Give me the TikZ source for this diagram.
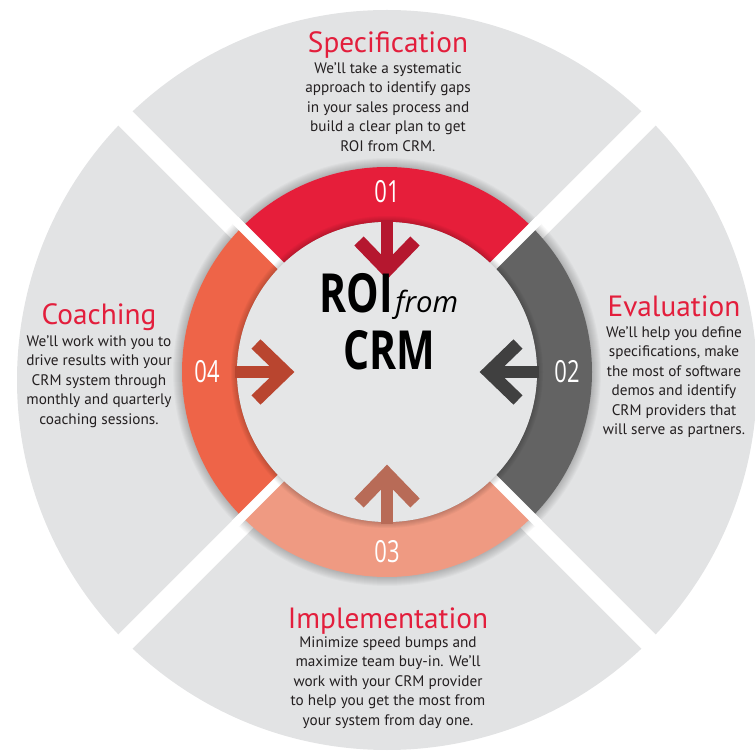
\documentclass[tikz,border=0pt]{standalone}
\usepackage{fontspec}
\setmainfont{PT Sans}
\newfontfamily\numfont[FakeStretch=0.72]{Open Sans}
\newfontfamily\roifont[FakeStretch=0.76]{Open Sans}
\newfontfamily\fromfont{Open Sans}
\usepackage{tikz}
\usetikzlibrary{positioning,calc}
\definecolor{fondgris}{HTML}{E2E3E4}
\definecolor{centregris}{HTML}{E5E6E7}
\definecolor{segrouge}{HTML}{E61E3A}
\definecolor{seggris}{HTML}{636363}
\definecolor{segsaumon}{HTML}{EF9A82}
\definecolor{segorange}{HTML}{EE6448}
\definecolor{flecherouge}{HTML}{B5172F}
\definecolor{flechegris}{HTML}{404040}
\definecolor{flechesaumon}{HTML}{B86B57}
\definecolor{flecheorange}{HTML}{B9452F}
\definecolor{titrerouge}{HTML}{E31E3C}
\definecolor{textenoir}{HTML}{231F20}

\begin{document}
\begin{tikzpicture}[x=0.03cm, y=0.03cm, line join=miter]
% styles des textes et des fentes
\tikzset{titre/.style={text=titrerouge, font=\fontsize{25}{27}\selectfont, inner sep=0pt, anchor=base},
  texte/.style={text=textenoir, font=\fontsize{13}{16.6}\selectfont, align=center, inner sep=0pt, anchor=north},
  numero/.style={text=white, font=\numfont\fontsize{26}{26}\selectfont, inner sep=0pt},
  centre/.style={text=black, font=\roifont\bfseries\fontsize{46}{49.5}\selectfont, align=center, inner sep=0pt, anchor=base},
  fente/.style={white, line width=0.6cm}}
\useasboundingbox (0,0) rectangle (755,751);
\clip (0,0) rectangle (755,751);
\coordinate (disque) at (387,371);
\coordinate (anneau) at (387,379);
\fill[fondgris] (disque) circle (370);
\foreach \a in {45,135}
  \draw[fente] ($(disque)+(\a:400)$) -- ($(disque)+(\a+180:400)$);
% ombre de l'anneau
\foreach \s in {1,...,9}
  \fill[black, opacity=0.022] (anneau) circle (205+\s);
% segments de l'anneau
\foreach \a/\col in {90/segrouge, 0/seggris, 270/segsaumon, 180/segorange}
  \fill[\col] ($(anneau)+(\a-45:205)$) arc[start angle=\a-45, end angle=\a+45, radius=205]
    -- ($(anneau)+(\a+45:150)$) arc[start angle=\a+45, end angle=\a-45, radius=150] -- cycle;
\foreach \a in {45,135,225,315}
  \draw[white, line width=0.27cm] ($(anneau)+(\a:140)$) -- ($(anneau)+(\a:215)$);
% disque central et son ombre
\foreach \s in {1,...,6}
  \fill[black, opacity=0.03] (anneau) circle (150+\s);
\fill[centregris] (anneau) circle (150);
% fleches vers le centre
\foreach \a/\col in {90/flecherouge, 0/flechegris, 270/flechesaumon, 180/flecheorange}{
  \begin{scope}[shift={(anneau)}, rotate=\a]
    \draw[\col, line width=0.36cm] (152,0) -- (104,0);
    \draw[\col, line width=0.39cm] (131,28) -- (102,0) -- (131,-28);
  \end{scope}}
\foreach \a/\n in {90/01, 0/02, 270/03, 180/04}
  \node[numero] (num\n) at ($(anneau)+(\a:180)$) {\n};
\node[centre] (roi) at (389,381) {ROI\hspace{2pt}{\fromfont\mdseries\itshape\fontsize{25}{25}\selectfont from}\\CRM};
% les quatre etapes
\node[titre] (specif) at (388,698) {Specification};
\node[texte] (specifTexte) at ($(specif.base)+(0,-9.5)$) {We’ll take a systematic\\approach to identify gaps\\in your sales process and\\build a clear plan to get\\ROI from CRM.};
\node[titre] (evalu) at (674,434) {Evaluation};
\node[texte] (evaluTexte) at ($(evalu.base)+(0,-9.5)$) {We’ll help you define\\specifications, make\\the most of software\\demos and identify\\CRM providers that\\will serve as partners.};
\node[titre] (impl) at (388,123) {Implementation};
\node[texte] (implTexte) at ($(impl.base)+(0,-8.5)$) {Minimize speed bumps and\\maximize team buy-in. We’ll\\work with your CRM provider\\to help you get the most from\\your system from day one.};
\node[titre] (coach) at (99,426) {Coaching};
\node[texte] (coachTexte) at ($(coach.base)+(0,-10.5)$) {We’ll work with you to\\drive results with your\\CRM system through\\monthly and quarterly\\coaching sessions.};
\end{tikzpicture}
\end{document}
